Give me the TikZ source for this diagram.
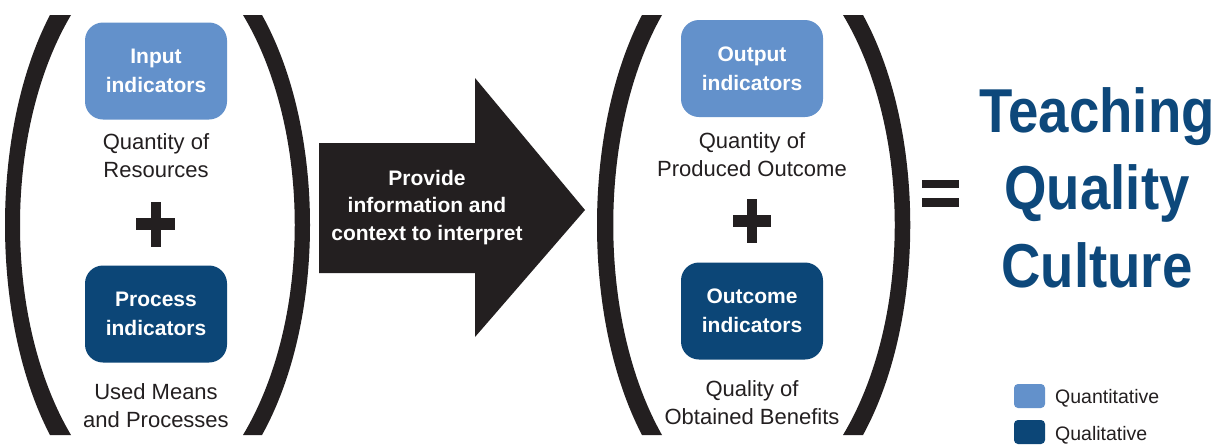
\documentclass[tikz,border=0pt]{standalone}
\usepackage{fontspec}
\setmainfont{Liberation Sans}
\newfontfamily\titlefont{Liberation Sans}[FakeStretch=0.88]
\definecolor{lightblue}{HTML}{6391CB}
\definecolor{darkblue}{HTML}{0C4677}
\definecolor{inkblack}{HTML}{231F20}
\definecolor{titleblue}{HTML}{0D487B}
\tikzset{
  indbox/.style={rounded corners=18pt, minimum width=142pt, minimum height=97pt,
    inner sep=0pt, text=white, align=center,
    font=\bfseries\fontsize{21}{29}\selectfont},
  lightbox/.style={indbox, fill=lightblue},
  darkbox/.style={indbox, fill=darkblue},
  desc/.style={anchor=north, inner sep=0pt, align=center, text=inkblack,
    font=\fontsize{22}{28}\selectfont},
  arrowtext/.style={anchor=north, inner sep=0pt, align=center, text=white,
    font=\bfseries\fontsize{21}{27.5}\selectfont},
  legsq/.style={rounded corners=4pt, minimum width=31pt, minimum height=24pt, inner sep=0pt},
  legtext/.style={anchor=base west, inner sep=0pt, text=inkblack,
    font=\fontsize{19.5}{22}\selectfont},
}
\begin{document}
\begin{tikzpicture}[x=1pt,y=-1pt]
\useasboundingbox[fill=white] (0,0) rectangle (1217,445);

% parentheses, left group
\fill[inkblack] (50,15) .. controls (-10,130) and (-10,320) .. (50,435)
  -- (71,435) .. controls (3,320) and (3,130) .. (71,15) -- cycle;
\fill[inkblack] (262,15) .. controls (326,130) and (326,320) .. (262,435)
  -- (243,435) .. controls (312,320) and (312,130) .. (243,15) -- cycle;
% parentheses, right group
\fill[inkblack] (642,15) .. controls (582,130) and (582,320) .. (642,435)
  -- (662,435) .. controls (597,320) and (597,130) .. (662,15) -- cycle;
\fill[inkblack] (863,15) .. controls (926,130) and (926,320) .. (863,435)
  -- (843,435) .. controls (912,320) and (912,130) .. (843,15) -- cycle;

% left group
\node[lightbox] (input) at (156,71) {Input\\indicators};
\node[desc] (inputdesc) at (156,133) {Quantity of\\Resources};
\fill[inkblack] (136,218) rectangle (175,230);
\fill[inkblack] (151,202) rectangle (161,247);
\node[darkbox] (process) at (156,314) {Process\\indicators};
\node[desc] (processdesc) at (156,383) {Used Means\\and Processes};

% arrow
\fill[inkblack] (319,143) -- (475,143) -- (475,78) -- (585,210) -- (475,337)
  -- (475,273) -- (319,273) -- cycle;
\node[arrowtext] (arrowlabel) at (427,170) {Provide\\information and\\context to interpret};

% right group
\node[lightbox] (output) at (752,68.5) {Output\\indicators};
\node[desc] (outputdesc) at (752,132) {Quantity of\\Produced Outcome};
\fill[inkblack] (733,215) rectangle (771,227);
\fill[inkblack] (747,199) rectangle (757,243);
\node[darkbox] (outcome) at (752,311) {Outcome\\indicators};
\node[desc] (outcomedesc) at (752,380) {Quality of\\Obtained Benefits};

% equals
\fill[inkblack] (922,180) rectangle (959,188);
\fill[inkblack] (922,198) rectangle (959,207);

% result
\node[anchor=north, inner sep=0pt, align=center, text=titleblue,
  font=\titlefont\bfseries\fontsize{62}{77.5}\selectfont] (result) at (1097,87)
  {Teaching\\Quality\\Culture};

% legend
\node[legsq, fill=lightblue] (legquant) at (1029.5,396) {};
\node[legtext] (legquanttext) at (1055,403) {Quantitative};
\node[legsq, fill=darkblue] (legqual) at (1029.5,432) {};
\node[legtext] (legqualtext) at (1055,440) {Qualitative};
\end{tikzpicture}
\end{document}
